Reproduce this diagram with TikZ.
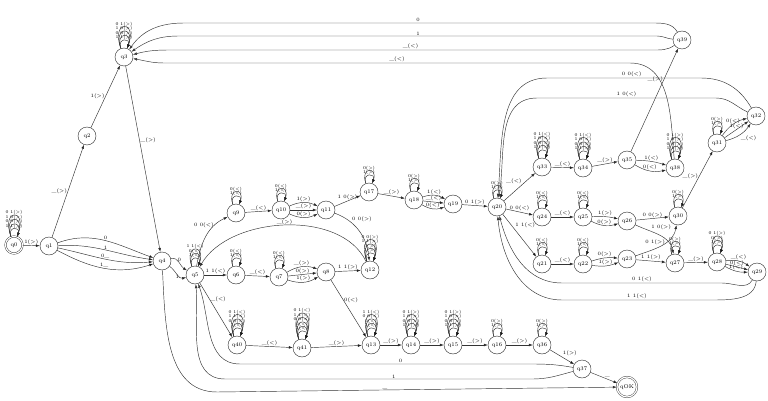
\documentclass[tikz,border=0pt]{standalone}
\usepackage{tikz}
\usetikzlibrary{arrows.meta,calc}

\tikzset{
	st/.style={shape=circle,draw=black!85,minimum size=18pt,inner sep=0pt,font=\fontsize{5.5}{6}\selectfont},
	fin/.style={st,double,double distance=1.2pt,minimum size=17pt},
	tr/.style={-{Latex[length=4pt,width=2.8pt]},line width=0.45pt,draw=black!80},
	lab/.style={font=\fontsize{5}{5.5}\selectfont,inner sep=0.7pt},
	looplab/.style={font=\fontsize{4.3}{4.5}\selectfont,inner sep=0.4pt},
}

\begin{document}
\begin{tikzpicture}[x=1pt,y=-1pt]
	\useasboundingbox (0,0) rectangle (768,401);
	% states
	\node[fin] (q0) at (14,245) {q0};
	\node[st] (q1) at (49,246) {q1};
	\node[st] (q2) at (87,136) {q2};
	\node[st] (q3) at (124,57) {q3};
	\node[st] (q4) at (162,261) {q4};
	\node[st] (q5) at (195,275) {q5};
	\node[st] (q6) at (236,275) {q6};
	\node[st] (q7) at (279,277) {q7};
	\node[st] (q8) at (326,272) {q8};
	\node[st] (q9) at (236,213) {q9};
	\node[st] (q10) at (281,210) {q10};
	\node[st] (q11) at (326,210) {q11};
	\node[st] (q12) at (370,270) {q12};
	\node[st] (q17) at (369,192) {q17};
	\node[st] (q18) at (414,200) {q18};
	\node[st] (q19) at (453,204) {q19};
	\node[st] (q20) at (497,207) {q20};
	\node[st] (q40) at (237,345) {q40};
	\node[st] (q41) at (302,348) {q41};
	\node[st] (q13) at (371,345) {q13};
	\node[st] (q14) at (411,345) {q14};
	\node[st] (q15) at (453,345) {q15};
	\node[st] (q16) at (497,345) {q16};
	\node[st] (q36) at (542,345) {q36};
	\node[st] (q37) at (582,369) {q37};
	\node[fin,minimum size=20pt] (qOK) at (627,387) {qOK};
	\node[st] (q33) at (542,167) {q33};
	\node[st] (q34) at (583,168) {q34};
	\node[st] (q35) at (627,160) {q35};
	\node[st] (q38) at (675,168) {q38};
	\node[st] (q39) at (682,40) {q39};
	\node[st] (q24) at (542,217) {q24};
	\node[st] (q25) at (583,217) {q25};
	\node[st] (q26) at (627,221) {q26};
	\node[st] (q21) at (542,264) {q21};
	\node[st] (q22) at (583,264) {q22};
	\node[st] (q23) at (627,259) {q23};
	\node[st] (q30) at (678,216) {q30};
	\node[st] (q27) at (675,263) {q27};
	\node[st] (q28) at (717,262) {q28};
	\node[st] (q29) at (757,272) {q29};
	\node[st] (q31) at (717,143) {q31};
	\node[st] (q32) at (756,116) {q32};

	% self loops
	\foreach \s/\ls in {q0/{1 1(>),0 0(>),1 0(>),0 1(>)}, q3/{1 1(>),0 0(>),1 0(>),0 1(>)},
		q5/{1(<),0(<),1 1(<)}, q9/{1(<),0(<)}, q10/{1(<),0(<)}, q17/{1(>),0(>)},
		q6/{1(<),0(<)}, q7/{1(<),0(<)}, q12/{1(>),0(>),1 1(>),0 0(>)}, q18/{1(>),0(>)},
		q20/{1(>),0(>)}, q33/{1 1(<),0 0(<),1 0(<),0 1(<)}, q34/{1 1(<),0 0(<),1 0(<),0 1(<)},
		q38/{1 1(>),0 0(>),1 0(>),0 1(>)}, q24/{1(<),0(<)}, q25/{1(<),0(<)},
		q21/{1(<),0(<)}, q22/{1(<),0(<)}, q30/{1(>),0(>)}, q27/{1(>),0(>)},
		q28/{1(>),0(>),0 1(>)}, q31/{1(>),0(>)}, q40/{1(<),0 0(<),1 1(<),0 1(<)},
		q41/{1(<),0(<),0 0(<),1 1(<),0 1(<)}, q13/{1(<),0(<),0 0(<),1 1(<)},
		q14/{1 1(>),0 0(>),1 0(>),0 1(>)}, q15/{1 1(>),0 0(>),1 0(>),0 1(>)},
		q16/{1(>),0(>)}, q36/{1(>),0(>)}} {
		\foreach \t [count=\i] in \ls {
			\pgfmathsetmacro{\d}{5+6.4*\i}
			\path[tr] (\s) edge[out=110,in=70,min distance=\d pt] node[looplab,above] {\t} (\s);
		}
	}

	% left part
	\path[tr] (q0) edge node[lab,above] {1(>)} (q1);
	\path[tr] (q1) edge node[lab,left] {\_(>)} (q2);
	\path[tr] (q2) edge node[lab,left] {1(>)} (q3);
	\path[tr] (q3) edge node[lab,right,pos=0.4] {\_(>)} (q4);
	\path[tr] (q1) edge[out=20,in=160] node[lab,above] {0} (q4)
		(q1) edge[out=3,in=172] node[lab,above] {1} (q4)
		(q1) edge[out=-12,in=185] node[lab,above] {0\_} (q4)
		(q1) edge[out=-28,in=198] node[lab,above] {1\_} (q4);
	\path[tr] (q4) edge[out=15,in=150] node[lab,above] {0} (q5)
		(q4) edge[out=-35,in=195] node[lab,below] {1} (q5);
	\draw[tr] (q4) to[out=-87,in=180] ($(q4)+(55,131)$) -- node[lab,above,pos=0.42] {\_} (qOK);

	% middle part
	\path[tr] (q5) edge[out=80,in=205] node[lab,left,pos=0.75] {0 0(<)} (q9);
	\path[tr] (q5) edge node[lab,above] {1 1(<)} (q6);
	\path[tr] (q5) edge node[lab,right,pos=0.3] {\_(<)} (q40);
	\path[tr] (q9) edge node[lab,above] {\_(<)} (q10);
	\path[tr] (q10) edge[bend left=25] node[lab,above] {1(>)} (q11)
		(q10) edge node[lab,above] {\_(>)} (q11)
		(q10) edge[bend right=25] node[lab,above] {0(>)} (q11);
	\path[tr] (q11) edge node[lab,above] {1 0(>)} (q17);
	\path[tr] (q11) edge[out=-20,in=95] node[lab,above right,pos=0.3] {0 0(>)} (q12);
	\path[tr] (q12) edge[out=115,in=60,looseness=0.9] node[lab,above] {\_(>)} (q5);
	\path[tr] (q6) edge node[lab,above] {\_(<)} (q7);
	\path[tr] (q7) edge[bend left=25] node[lab,above] {\_(>)} (q8)
		(q7) edge node[lab,above] {0(>)} (q8)
		(q7) edge[bend right=25] node[lab,above] {1(>)} (q8);
	\path[tr] (q8) edge node[lab,above] {1 1(>)} (q12);
	\path[tr] (q8) edge node[lab,right,pos=0.35] {0(<)} (q13);

	% bottom row
	\path[tr] (q40) edge node[lab,above] {\_(<)} (q41);
	\path[tr] (q41) edge node[lab,above] {\_(>)} (q13);
	\path[tr] (q13) edge node[lab,above] {\_(>)} (q14);
	\path[tr] (q14) edge node[lab,above] {\_(>)} (q15);
	\path[tr] (q15) edge node[lab,above] {\_(>)} (q16);
	\path[tr] (q16) edge node[lab,above] {\_(>)} (q36);
	\path[tr] (q36) edge node[lab,above right] {1(>)} (q37);
	\path[tr] (q37) edge node[lab,above right] {\_} (qOK);
	\draw[tr] (q37) to[out=170,in=0] ($(q37)+(-50,-5)$) -- node[lab,above,pos=0.45] {0} ($(q5)+(45,89)$) to[out=180,in=-70] (q5);
	\draw[tr] (q37) to[out=195,in=0] ($(q37)+(-50,10)$) -- node[lab,above,pos=0.45] {1} ($(q5)+(30,104)$) to[out=180,in=-85] (q5);

	% upper chain
	\path[tr] (q17) edge node[lab,above] {\_(>)} (q18);
	\path[tr] (q18) edge[bend left=25] node[lab,above] {1(<)} (q19)
		(q18) edge node[lab,above] {\_(<)} (q19)
		(q18) edge[bend right=25] node[lab,above] {0(<)} (q19);
	\path[tr] (q19) edge node[lab,above] {0 1(>)} (q20);
	\path[tr] (q20) edge node[lab,above left,pos=0.6] {\_(<)} (q33);
	\path[tr] (q20) edge node[lab,above] {0 0(<)} (q24);
	\path[tr] (q20) edge node[lab,above right,pos=0.35] {1 1(<)} (q21);

	% right part
	\path[tr] (q33) edge node[lab,above] {\_(<)} (q34);
	\path[tr] (q34) edge node[lab,above] {\_(>)} (q35);
	\path[tr] (q35) edge[bend left=8] node[lab,above] {1(<)} (q38)
		(q35) edge[bend right=22] node[lab,above] {0(<)} (q38);
	\path[tr] (q35) edge node[lab,left,pos=0.7] {\_(>)} (q39);
	\path[tr] (q24) edge node[lab,above] {\_(<)} (q25);
	\path[tr] (q25) edge[bend left=8] node[lab,above] {1(>)} (q26)
		(q25) edge[bend right=22] node[lab,above] {0(>)} (q26);
	\path[tr] (q26) edge node[lab,above] {0 0(>)} (q30);
	\path[tr] (q26) edge[out=-25,in=100] node[lab,above right,pos=0.3] {1 0(>)} (q27);
	\path[tr] (q21) edge node[lab,above] {\_(<)} (q22);
	\path[tr] (q22) edge[bend left=12] node[lab,above] {0(>)} (q23)
		(q22) edge[bend right=15] node[lab,above] {1(>)} (q23);
	\path[tr] (q23) edge[out=20,in=-100] node[lab,left,pos=0.6] {0 1(>)} (q30);
	\path[tr] (q23) edge node[lab,above] {1 1(>)} (q27);
	\path[tr] (q30) edge node[lab,left,pos=0.55] {\_(>)} (q31);
	\path[tr] (q27) edge node[lab,above] {\_(>)} (q28);
	\path[tr] (q28) edge[bend left=22] node[lab,above] {\_(<)} (q29)
		(q28) edge node[lab,above] {0(<)} (q29)
		(q28) edge[bend right=15] node[lab,above] {1(<)} (q29);
	\path[tr] (q31) edge[bend left=20] node[lab,above] {0(<)} (q32)
		(q31) edge node[lab,above] {1(<)} (q32)
		(q31) edge[bend right=20] node[lab,below right] {\_(<)} (q32);

	% long returns
	\draw[tr] (q29) to[out=-120,in=0] ($(q29)+(-35,11)$) -- node[lab,above] {0 1(<)} ($(q20)+(65,76)$) to[out=180,in=-75] (q20);
	\draw[tr] (q29) to[out=-95,in=0] ($(q29)+(-45,28)$) -- node[lab,above] {1 1(<)} ($(q20)+(65,93)$) to[out=180,in=-85] (q20);
	\draw[tr] (q32) to[out=120,in=0] ($(q32)+(-55,-38)$) -- node[lab,above,pos=0.45] {0 0(<)} ($(q20)+(50,-129)$) to[out=180,in=85] (q20);
	\draw[tr] (q32) to[out=155,in=0] ($(q32)+(-40,-18)$) -- node[lab,above,pos=0.5] {1 0(<)} ($(q20)+(40,-109)$) to[out=180,in=80] (q20);
	\draw[tr] (q38) to[out=95,in=0] ($(q38)+(-45,-105)$) -- node[lab,above] {\_(<)} ($(q3)+(40,6)$) to[out=180,in=-10] (q3);
	\draw[tr] (q39) to[out=120,in=0] ($(q39)+(-30,-17)$) -- node[lab,above] {0} ($(q3)+(60,-34)$) to[out=180,in=55] (q3);
	\draw[tr] (q39) to[out=175,in=0] ($(q39)+(-25,-4)$) -- node[lab,above] {1} ($(q3)+(55,-21)$) to[out=180,in=35] (q3);
	\draw[tr] (q39) to[out=215,in=0] ($(q39)+(-30,10)$) -- node[lab,above] {\_(<)} ($(q3)+(45,-7)$) to[out=180,in=15] (q3);
\end{tikzpicture}
\end{document}
